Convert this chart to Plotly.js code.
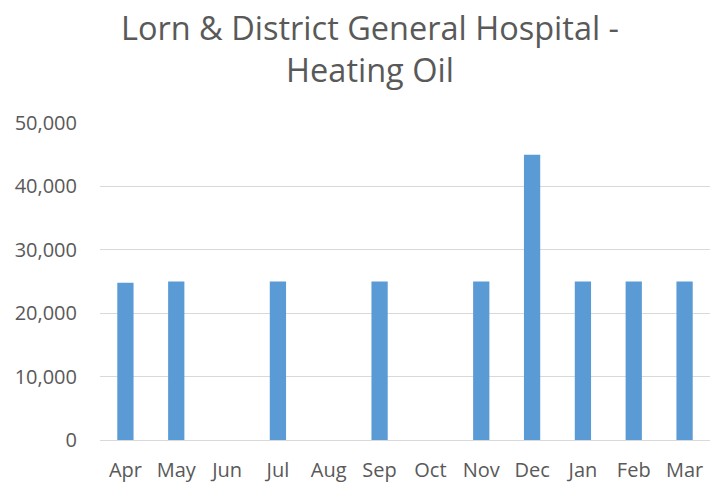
<!DOCTYPE html>
<html><head><meta charset="utf-8">
<script src="https://cdn.plot.ly/plotly-3.0.1.min.js"></script>
<style>body{margin:0;background:#fff}#chart{width:711px;height:486px}</style>
</head><body><div id="chart"></div>
<script>
const months = ["Apr","May","Jun","Jul","Aug","Sep","Oct","Nov","Dec","Jan","Feb","Mar"];
const oilValues = [24800, 25000, 0, 25000, 0, 25000, 0, 25000, 45000, 25000, 25000, 25000];
const yTicks = [0, 10000, 20000, 30000, 40000, 50000];
const yTickLabels = ["0","10,000","20,000","30,000","40,000","50,000"];

Plotly.newPlot("chart", [{
  type: "bar", x: months, y: oilValues,
  marker: {color: "#5b9bd5"}, hoverinfo: "x+y"
}], {
  width: 711, height: 486,
  margin: {l: 100, r: 1, t: 123, b: 46},
  paper_bgcolor: "#fff", plot_bgcolor: "#fff",
  bargap: 0.68,
  font: {family: "'Open Sans', sans-serif", color: "#595959"},
  title: {text: "Lorn &amp; District General Hospital -<br>Heating Oil", x: 370/711, xref: "container", xanchor: "center",
    y: 1 - 40/486, yref: "container", yanchor: "middle",
    font: {size: 32.5, color: "#595959", family: "'Open Sans', sans-serif"}},
  xaxis: {type: "category", tickfont: {size: 20}, showgrid: false, showline: true, linecolor: "#d9d9d9", linewidth: 1, ticks: "", ticklen: 0, ticklabelstandoff: 12},
  yaxis: {range: [0, 50000], tickvals: yTicks, ticktext: yTickLabels, tickfont: {size: 20},
    showgrid: true, gridcolor: "#d9d9d9", gridwidth: 1, zeroline: false, ticks: "", ticklabelstandoff: 22},
  showlegend: false
}, {displayModeBar: false, staticPlot: true});
</script></body></html>
